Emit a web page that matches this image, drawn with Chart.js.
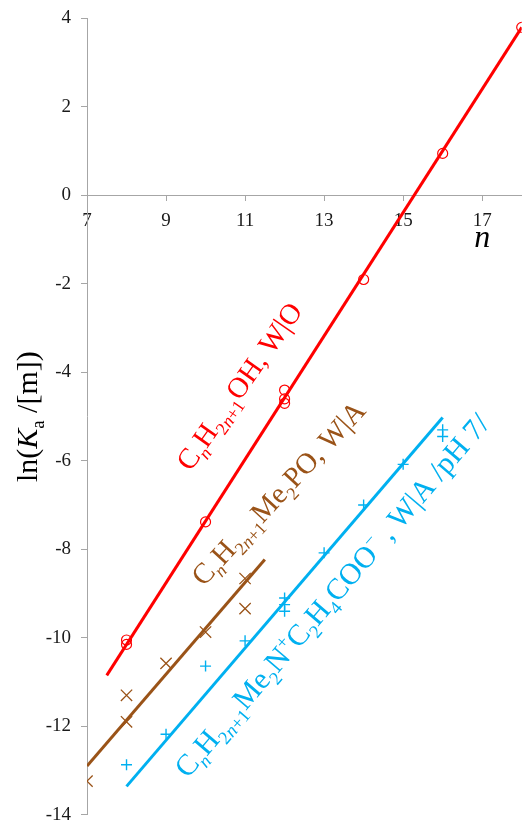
<!DOCTYPE html>
<html>
<head>
<meta charset="utf-8">
<script src="https://cdn.jsdelivr.net/npm/chart.js"></script>
<style>
  body { margin: 0; background: #fff; }
  #contenedor { width: 531px; height: 824px; }
</style>
</head>
<body>
<div id="contenedor"><canvas id="grafico"></canvas></div>
<script>
// Marcas de los ejes
var xTicks = [7, 9, 11, 13, 15, 17];
var yTicks = [4, 2, 0, -2, -4, -6, -8, -10, -12, -14];

// CnH2n+1OH, W|O (circulos rojos) y su recta
var alcN = [8, 8, 10, 12, 12, 12, 14, 16, 18];
var alcY = [-10.05, -10.15, -7.38, -4.4, -4.6, -4.7, -1.9, 0.95, 3.8];
var alcRectaN = [7.5, 18];
var alcRectaY = [-10.85, 3.8];

// CnH2n+1Me2PO, W|A (aspas marrones)
var poN = [7, 8, 8, 9, 10, 11, 11];
var poY = [-13.24, -11.3, -11.9, -10.58, -9.87, -9.34, -8.66];
var poRectaN = [7, 11.5];
var poRectaY = [-12.9, -8.23];

// CnH2n+1Me2N+C2H4COO-, W|A /pH 7/ (cruces azules)
var betN = [8, 9, 10, 11, 12, 12, 12, 13, 14, 15, 16, 16];
var betY = [-12.87, -12.18, -10.64, -10.07, -9.1, -9.25, -9.4, -8.08, -7.0, -6.08, -5.3, -5.45];
var betRectaN = [8, 16];
var betRectaY = [-13.36, -5.02];

// Textos (con _{} subindice, ^{} superindice, *..* cursiva)
var txtAlc = 'C_{*n*}H_{2*n*+1}OH, W|O';
var txtPo = 'C_{*n*}H_{2*n*+1}Me_{2}PO, W|A';
var txtBet = 'C_{*n*}H_{2*n*+1}Me_{2}N^{+}C_{2}H_{4}COO^{\u2212} , W|A /pH 7/';
var txtEjeY = 'ln(*K*_{a} /[m])';
var txtEjeX = '*n*';

var ROJO = '#ff0000', MARRON = '#9a5318', AZUL = '#00b0f0', GRIS = '#a6a6a6';
var FUENTE = "'Liberation Serif', 'Times New Roman', serif";

Chart.defaults.font.family = FUENTE;

function pares(xs, ys) {
  return xs.map(function(v, i) { return {x: v, y: ys[i]}; });
}

// separa el texto en trozos normales / subindice / superindice
function partes(txt) {
  var out = [], nivel = 0, ital = false, buf = '';
  function push() { if (buf) out.push({t: buf, nivel: nivel, ital: ital}); buf = ''; }
  for (var i = 0; i < txt.length; i++) {
    var c = txt[i];
    if ((c === '_' || c === '^') && txt[i + 1] === '{') { push(); nivel = c === '_' ? 1 : 2; i++; }
    else if (c === '}') { push(); nivel = 0; }
    else if (c === '*') { push(); ital = !ital; }
    else buf += c;
  }
  push();
  return out;
}

function escribir(ctx, txt, x, y, ang, size, color, centrado) {
  var p = partes(txt);
  function fuente(s) {
    var sz = s.nivel ? size * 0.62 : size;
    return (s.ital ? 'italic ' : '') + sz + 'px ' + FUENTE;
  }
  ctx.save();
  ctx.translate(x, y);
  ctx.rotate(ang * Math.PI / 180);
  ctx.fillStyle = color;
  ctx.textBaseline = 'alphabetic';
  ctx.textAlign = 'left';
  var total = 0;
  p.forEach(function(s) { ctx.font = fuente(s); s.w = ctx.measureText(s.t).width; total += s.w; });
  var cx = centrado ? -total / 2 : 0;
  p.forEach(function(s) {
    ctx.font = fuente(s);
    var dy = s.nivel === 1 ? size * 0.24 : (s.nivel === 2 ? -size * 0.38 : 0);
    ctx.fillText(s.t, cx, dy);
    cx += s.w;
  });
  ctx.restore();
}

// Plugin para los rotulos sobre las rectas y los titulos de ejes
var rotulos = {
  id: 'rotulos',
  afterDatasetsDraw: function(chart) {
    var ctx = chart.ctx, xs = chart.scales.x, ys = chart.scales.y, ca = chart.chartArea;
    escribir(ctx, txtAlc, xs.getPixelForValue(9.62), ys.getPixelForValue(-6.26), -55, 29, ROJO, false);
    escribir(ctx, txtPo, xs.getPixelForValue(9.95), ys.getPixelForValue(-8.86), -47, 29, MARRON, false);
    escribir(ctx, txtBet, xs.getPixelForValue(9.55), ys.getPixelForValue(-13.2), -49.5, 30, AZUL, false);
    escribir(ctx, txtEjeY, 37, (ca.top + ca.bottom) / 2, -90, 30, '#000', true);
    escribir(ctx, txtEjeX, xs.getPixelForValue(17.0), ys.getPixelForValue(0) + 52, 0, 32, '#000', true);
  }
};

var datos = {
  datasets: [
    {
      label: 'alc',
      data: pares(alcN, alcY),
      pointStyle: 'circle',
      pointRadius: 5,
      borderWidth: 1.2,
      borderColor: ROJO,
      backgroundColor: 'rgba(0,0,0,0)'
    },
    {
      label: 'alc recta',
      data: pares(alcRectaN, alcRectaY),
      showLine: true,
      pointRadius: 0,
      borderWidth: 3,
      borderColor: ROJO
    },
    {
      label: 'po',
      data: pares(poN, poY),
      pointStyle: 'crossRot',
      pointRadius: 8,
      borderWidth: 1.3,
      borderColor: MARRON
    },
    {
      label: 'po recta',
      data: pares(poRectaN, poRectaY),
      showLine: true,
      pointRadius: 0,
      borderWidth: 3,
      borderColor: MARRON
    },
    {
      label: 'bet',
      data: pares(betN, betY),
      pointStyle: 'cross',
      pointRadius: 5.5,
      borderWidth: 1.4,
      borderColor: AZUL
    },
    {
      label: 'bet recta',
      data: pares(betRectaN, betRectaY),
      showLine: true,
      pointRadius: 0,
      borderWidth: 3,
      borderColor: AZUL
    }
  ]
};

var opciones = {
  responsive: true,
  maintainAspectRatio: false,
  animation: false,
  layout: { padding: { top: 18.5, right: 4, bottom: 8.5, left: 0 } },
  plugins: { legend: { display: false }, tooltip: { enabled: false } },
  scales: {
    x: {
      type: 'linear',
      min: 7,
      max: 18,
      position: { y: 0 },
      afterBuildTicks: function(s) { s.ticks = xTicks.map(function(v) { return {value: v}; }); },
      afterFit: function(s) { s.paddingLeft = 0; s.paddingRight = 0; },
      grid: { drawOnChartArea: false, drawTicks: true, tickLength: 5, color: GRIS },
      border: { color: GRIS, width: 1 },
      ticks: { font: { family: FUENTE, size: 19 }, color: '#1a1a1a', padding: 9, maxRotation: 0, autoSkip: false }
    },
    y: {
      type: 'linear',
      min: -14,
      max: 4,
      position: 'left',
      afterBuildTicks: function(s) { s.ticks = yTicks.map(function(v) { return {value: v}; }); },
      afterFit: function(s) { s.width = 87; s.paddingTop = 0; s.paddingBottom = 0; },
      grid: { drawOnChartArea: false, drawTicks: true, tickLength: 6, color: GRIS },
      border: { color: GRIS, width: 1 },
      ticks: {
        font: { family: FUENTE, size: 19 },
        color: '#1a1a1a',
        padding: 10,
        callback: function(v) { return String(v); }
      }
    }
  }
};

new Chart(document.getElementById('grafico'), {
  type: 'scatter',
  data: datos,
  options: opciones,
  plugins: [rotulos]
});
</script>
</body>
</html>
